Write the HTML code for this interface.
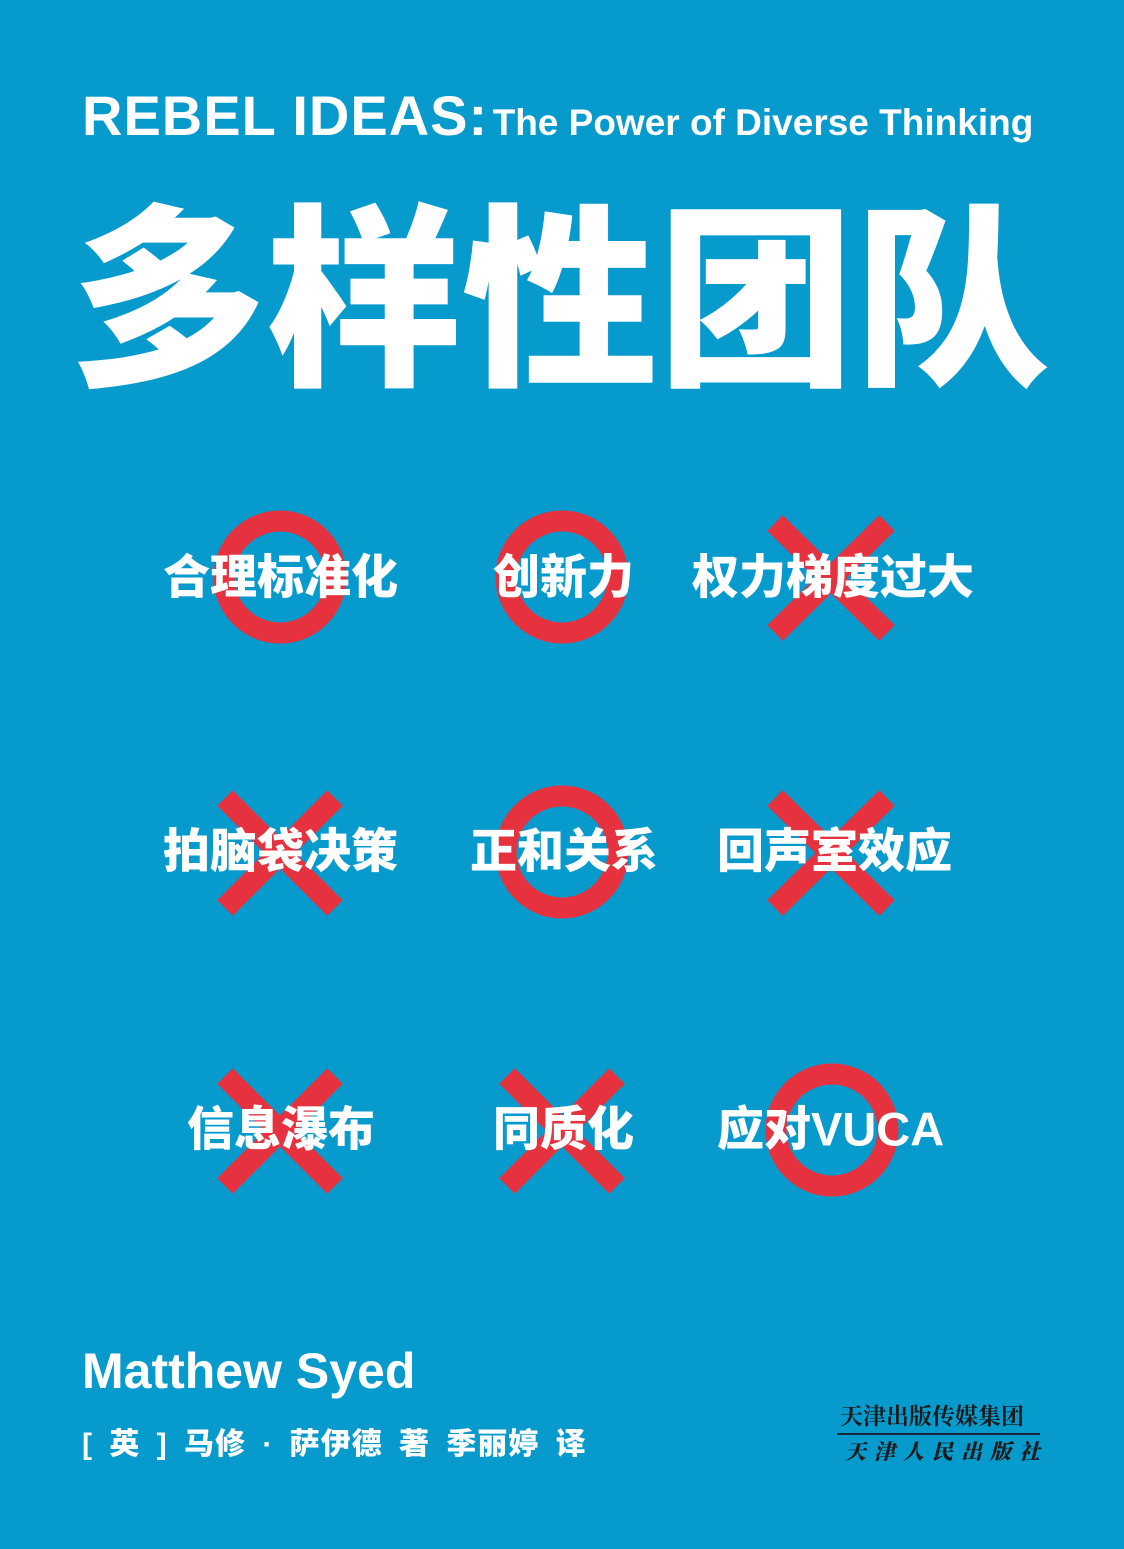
<!DOCTYPE html>
<html><head><meta charset="utf-8"><style>
body{margin:0;width:1124px;height:1549px;background:#079ACD;position:relative;overflow:hidden;font-family:"Liberation Sans","Noto Sans CJK SC",sans-serif;color:#fff}
.a{position:absolute;white-space:nowrap}
.lbl{position:absolute;font-size:47px;font-weight:900;line-height:1;transform:translateY(-50%);z-index:2}
svg{position:absolute;left:0;top:0;z-index:1}
</style></head><body>
<div class="a" style="left:82px;top:88px;font-weight:bold;line-height:1"><span style="font-size:56px;letter-spacing:1px">REBEL IDEAS:</span> <span style="font-size:37px">The Power of Diverse Thinking</span></div>
<div class="a" style="left:70px;top:178px;font-size:196px;font-weight:900;line-height:1.1;font-family:'Noto Sans CJK SC',sans-serif">多样性团队</div>
<svg width="1124" height="1549">
<g fill="none" stroke="#E6323E" stroke-width="21">
<circle cx="280" cy="577" r="56"/>
<circle cx="562" cy="577" r="56"/>
<circle cx="562" cy="852" r="56"/>
<circle cx="832" cy="1130" r="56"/>
</g>
<g stroke="#E6323E" stroke-width="22">
<path d="M775 523L887 633M887 523L775 633"/>
<path d="M225 798L335 908M335 798L225 908"/>
<path d="M775 798L887 908M887 798L775 908"/>
<path d="M225 1076L335 1186M335 1076L225 1186"/>
<path d="M507 1076L617 1186M617 1076L507 1186"/>
</g>
</svg>
<div class="lbl" style="left:163px;top:577px">合理标准化</div>
<div class="lbl" style="left:493px;top:577px">创新力</div>
<div class="lbl" style="left:692px;top:577px">权力梯度过大</div>
<div class="lbl" style="left:163px;top:851px">拍脑袋决策</div>
<div class="lbl" style="left:470px;top:851px">正和关系</div>
<div class="lbl" style="left:717px;top:851px">回声室效应</div>
<div class="lbl" style="left:187px;top:1129px">信息瀑布</div>
<div class="lbl" style="left:493px;top:1129px">同质化</div>
<div class="lbl" style="left:717px;top:1129px">应对VUCA</div>
<div class="a" style="left:82px;top:1346px;font-size:50px;font-weight:bold;line-height:1">Matthew Syed</div>
<div class="a" style="left:82px;top:1430px;font-size:30px;font-weight:900;line-height:1;word-spacing:7px;letter-spacing:1px">[ 英 ] 马修 · 萨伊德 著 季丽婷 译</div>
<div class="a" style="left:840px;top:1403px;font-size:23px;color:#1a1a1a;font-family:'Noto Serif CJK SC',serif;font-weight:bold;line-height:1">天津出版传媒集团</div>
<div class="a" style="left:837px;top:1433px;width:203px;height:2px;background:#1a2a3a"></div>
<div class="a" style="left:845px;top:1441px;font-size:21px;color:#1a1a1a;font-family:'Noto Serif CJK SC',serif;font-weight:900;letter-spacing:8px;font-style:italic;line-height:1">天津人民出版社</div>
</body></html>
